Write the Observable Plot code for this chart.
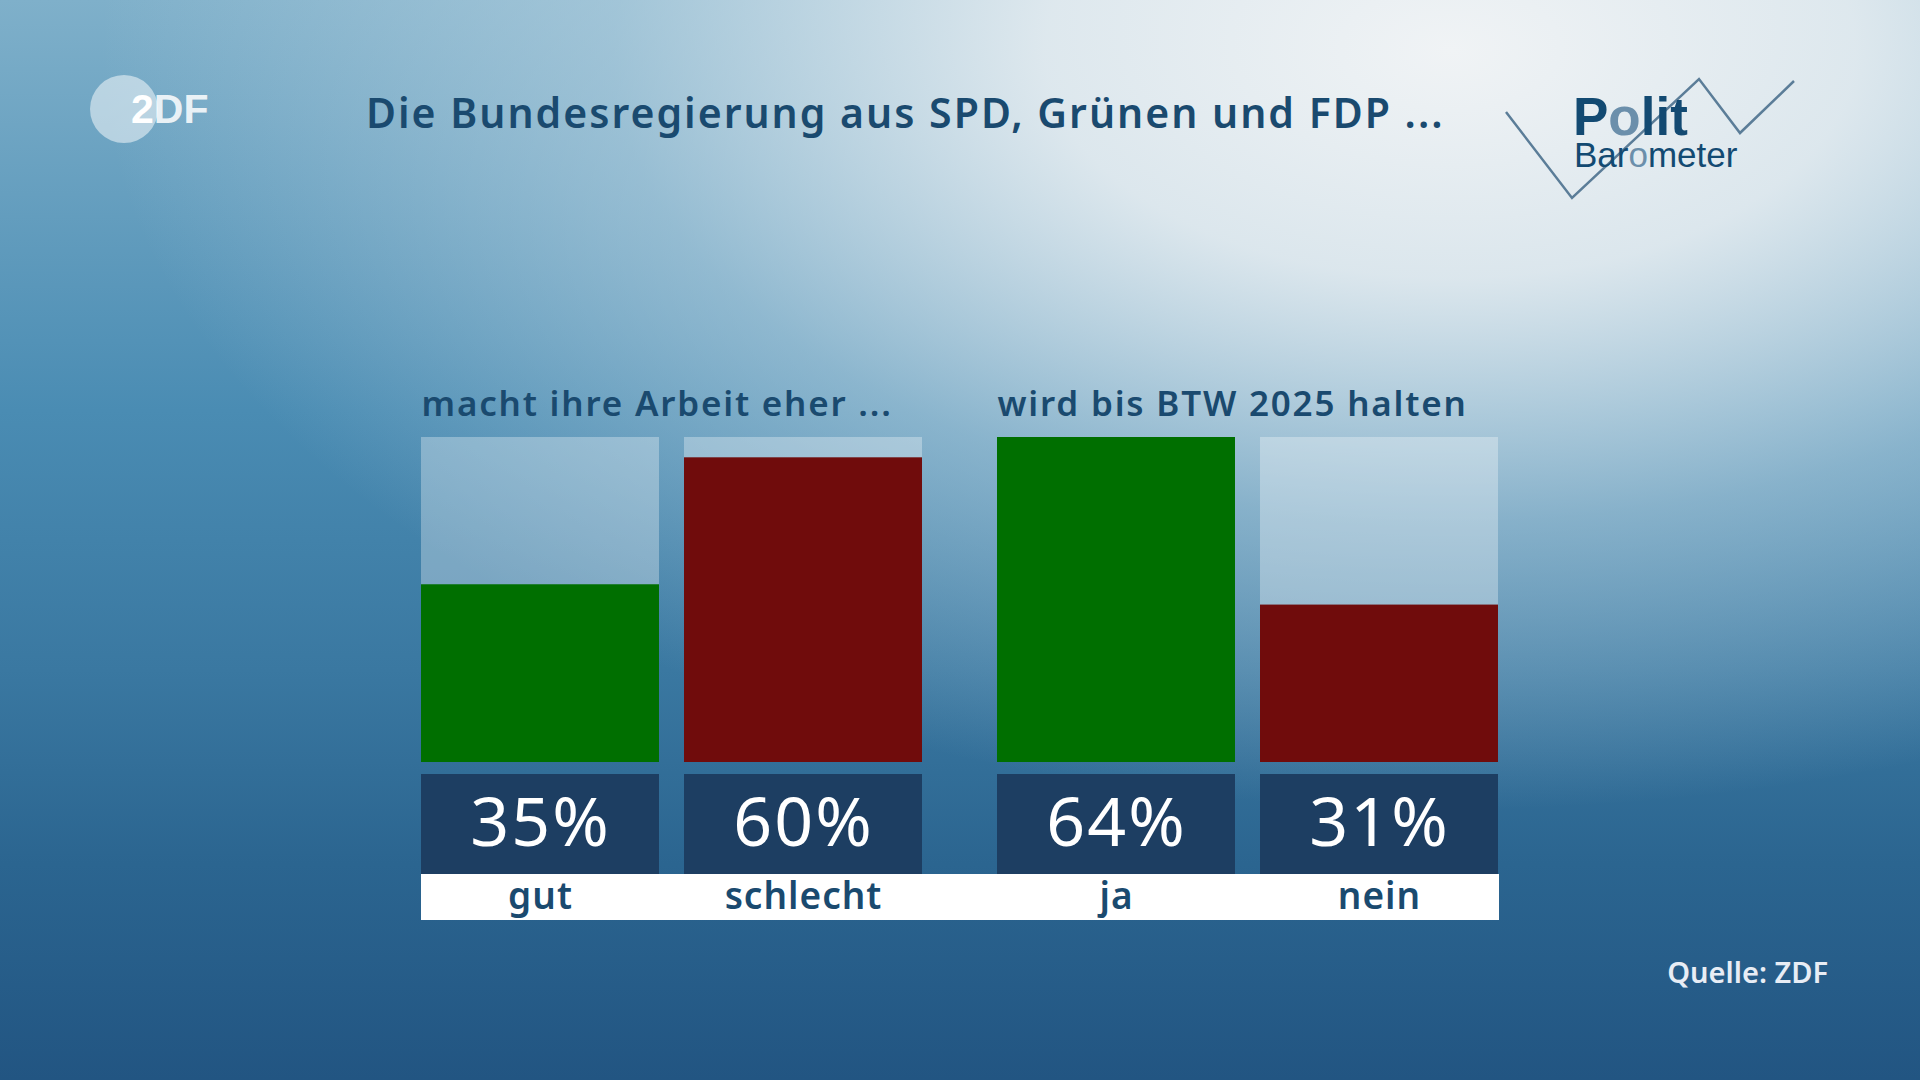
<!DOCTYPE html>
<html>
<head>
<meta charset="utf-8">
<script src="https://cdn.jsdelivr.net/npm/d3@7"></script>
<script src="https://cdn.jsdelivr.net/npm/@observablehq/plot@0.6"></script>
<style>
  html, body { margin: 0; padding: 0; }
  body {
    width: 1920px; height: 1080px; overflow: hidden; position: relative;
    font-family: "Noto Sans", "Open Sans", sans-serif;
    background:
      radial-gradient(ellipse 1350px 760px at 1450px 50px, rgba(240,243,245,1) 0%, rgba(230,237,241,0.92) 30%, rgba(190,214,227,0.55) 62%, rgba(185,212,226,0) 100%),
      linear-gradient(180deg, #7fb0ca 0%, #4a8cb3 38%, #3a78a1 62%, #2b6590 80%, #225582 100%);
  }
  #title {
    position: absolute; left: 366px; top: 86px; font-size: 41px; font-weight: 600;
    letter-spacing: 2px;
    color: #1a4a6f; white-space: nowrap; line-height: 52px;
  }
  #source {
    position: absolute; right: 92px; top: 952px; font-size: 29px; font-weight: 600;
    color: #e8edf5; white-space: nowrap; line-height: 40px;
  }
  #chart { position: absolute; left: 0; top: 0; }
  #logos { position: absolute; left: 0; top: 0; }
</style>
</head>
<body>
<svg id="logos" width="1920" height="1080">
  <circle cx="124" cy="109" r="34" fill="#ffffff" fill-opacity="0.5"/>
  <text x="131" y="123" font-family="Liberation Sans, Arial, sans-serif" font-weight="700" font-size="41" fill="#ffffff">2<tspan fill-opacity="0.85">DF</tspan></text>
  <polyline points="1506,112 1572,198 1699,79 1740,133 1794,81" fill="none" stroke="#5b7d98" stroke-width="2.5"/>
  <text x="1573" y="135" font-family="Liberation Sans, Arial, sans-serif" font-weight="700" font-size="53" fill="#134a72">P<tspan fill="#6b8fab">o</tspan>lit</text>
  <text x="1574" y="167" font-family="Liberation Sans, Arial, sans-serif" font-size="35" fill="#134a72">Bar<tspan fill="#6b8fab">o</tspan>meter</text>
</svg>
<div id="title">Die Bundesregierung aus SPD, Grünen und FDP ...</div>
<div id="chart"></div>
<div id="source">Quelle: ZDF</div>
<script>
// ---- data ----
const groups = ["macht ihre Arbeit eher ...", "wird bis BTW 2025 halten"];
const categories = ["gut", "schlecht", "ja", "nein"];
const categoryGroups = [groups[0], groups[0], groups[1], groups[1]];
const values = [35, 60, 64, 31];
const tones = ["positiv", "negativ", "positiv", "negativ"];

const rows = categories.map((c, i) => ({
  cat: c, group: categoryGroups[i], value: values[i], tone: tones[i]
}));
const yMax = d3.max(values);

const textColor = "#1a4a6f";
const font = "'Noto Sans', 'Open Sans', sans-serif";

const chart = Plot.plot({
  width: 1920,
  height: 1080,
  marginTop: 437,
  marginBottom: 160,
  marginLeft: 421,
  marginRight: 421,
  style: { background: "transparent", overflow: "visible", fontFamily: font },
  fx: { domain: groups, paddingInner: 74 / 576, paddingOuter: 0, axis: null },
  x: { domain: ["positiv", "negativ"], paddingInner: 25 / 263.5, paddingOuter: 0, axis: null },
  y: { domain: [0, yMax], range: [762, 437], axis: null },
  color: { domain: ["positiv", "negativ"], range: ["#006f00", "#700c0c"] },
  marks: [
    // group headings
    Plot.text(groups, {
      fx: d => d, text: d => d, frameAnchor: "top-left", textAnchor: "start",
      lineAnchor: "bottom", dy: -22, fontSize: 35, fontWeight: 600, fill: textColor,
      style: "letter-spacing: 1.8px"
    }),
    // background (max) bars
    Plot.barY(rows, { fx: "group", x: "tone", y: () => yMax, fill: "white", fillOpacity: 0.31 }),
    // value bars
    Plot.barY(rows, { fx: "group", x: "tone", y: "value", fill: "tone" }),
    // dark value boxes
    Plot.cell(rows, { fx: "group", x: "tone", fill: "#1d3e62", insetTop: 337, insetBottom: 46 }),
    Plot.text(rows, {
      fx: "group", x: "tone", text: d => d.value + "%", frameAnchor: "bottom",
      lineAnchor: "middle", dy: -96, fill: "white", fontSize: 68, fontWeight: 400
    }),
    // white label strip (spans the gap between the groups)
    Plot.rect([groups[0]], { fx: d => d, fill: "white", insetTop: 437, insetRight: -74 }),
    Plot.rect([groups[1]], { fx: d => d, fill: "white", insetTop: 437 }),
    Plot.text(rows, {
      fx: "group", x: "tone", text: "cat", frameAnchor: "bottom",
      lineAnchor: "middle", dy: -23, fill: textColor, fontSize: 37, fontWeight: 600
    })
  ]
});
chart.querySelectorAll("text").forEach(t => {
  const s = t.closest("g[aria-label='text']");
});
document.getElementById("chart").appendChild(chart);
// letter spacing for the headings and labels (style only)
chart.querySelectorAll("g[aria-label='text']").forEach((g, i) => {
  g.style.letterSpacing = i === 0 ? "1.8px" : (i === 1 ? "2px" : "1px");
});
</script>
</body>
</html>
